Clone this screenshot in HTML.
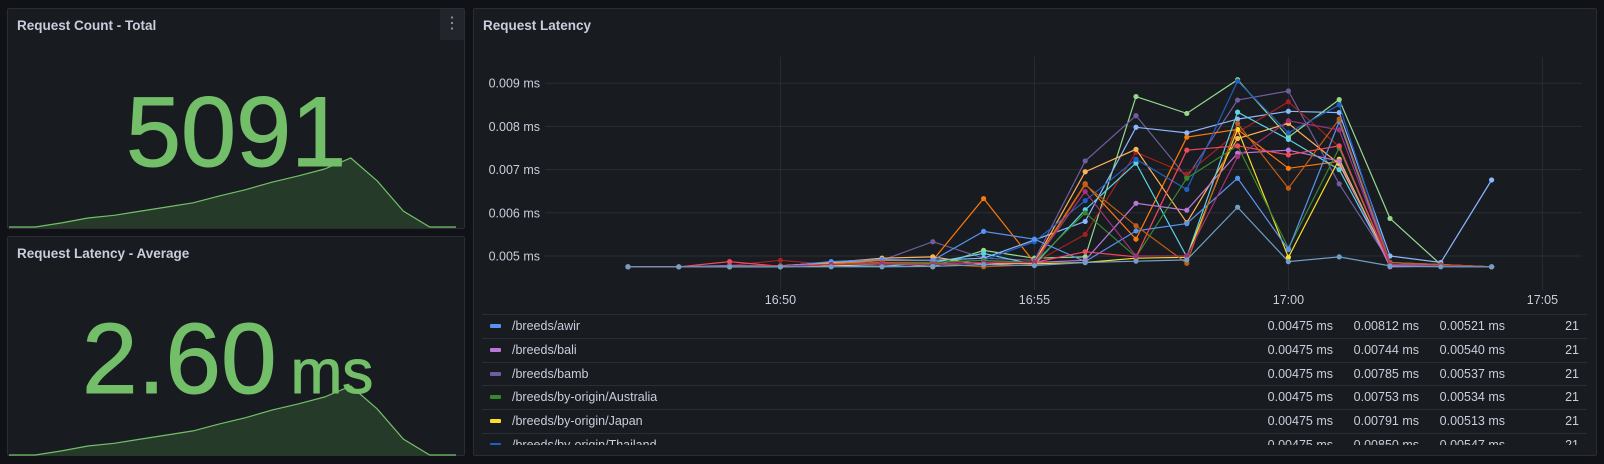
<!DOCTYPE html>
<html><head><meta charset="utf-8"><style>
html,body{margin:0;padding:0;background:#111217;width:1604px;height:464px;overflow:hidden;font-family:"Liberation Sans",sans-serif;}
.panel{position:absolute;background:#181b1f;border:1px solid #2a2d33;border-radius:2px;box-sizing:border-box;}
.title{position:absolute;left:9px;top:9px;color:#ccccdc;font-size:13.5px;font-weight:bold;}
.big{position:absolute;color:#73bf69;font-weight:normal;-webkit-text-stroke:1px #73bf69;white-space:nowrap;}
</style></head><body>
<div class="panel" style="left:7px;top:8px;width:458px;height:221px;">
  <div class="title">Request Count - Total</div>
  <div style="position:absolute;right:0;top:0;width:24px;height:31px;background:#22252b;color:#9fa1a8;font-size:16px;text-align:center;line-height:30px;">⋮</div>
  <svg id="spark1" style="position:absolute;left:-7px;top:-8px" width="465" height="229"></svg>
  <div class="big" style="left:118px;top:66px;font-size:99px;">5091</div>
</div>
<div class="panel" style="left:7px;top:236px;width:458px;height:220px;">
  <div class="title">Request Latency - Average</div>
  <svg id="spark2" style="position:absolute;left:-7px;top:-236px" width="465" height="457"></svg>
  <div class="big" style="left:74px;top:65px;font-size:100px;">2.60<span style="font-size:62px;margin-left:14px">ms</span></div>
</div>
<div class="panel" style="left:473px;top:8px;width:1124px;height:448px;">
  <div class="title">Request Latency</div>
</div>
<svg id="chart" style="position:absolute;left:0;top:0" width="1604" height="464"></svg>
<div id="legend" style="position:absolute;left:482px;top:314px;width:1105px;height:131px;overflow:hidden;"></div>
<script>
const NS="http://www.w3.org/2000/svg";
function mk(p,t,a){const e=document.createElementNS(NS,t);for(const k in a)e.setAttribute(k,a[k]);p.appendChild(e);return e;}
// sparkline data
const sparkValues=[0,0,6,13,17,23,29,35,45,54,65,74,84,100,67,23,0,0];
function spark(svg,base){
  const pts=sparkValues.map((v,i)=>[8+i*(447/17),base-v*0.69]);
  const d="M"+pts.map(p=>p[0].toFixed(1)+","+p[1].toFixed(1)).join("L");
  const a=mk(svg,"path",{d:d+"L455,"+(base+1)+"L8,"+(base+1)+"Z",fill:"#263a29"});
  
  
  const l=mk(svg,"path",{d:d,fill:"none",stroke:"#73bf69","stroke-width":1.2});
  
  
}
spark(document.getElementById("spark1"),226);
spark(document.getElementById("spark2"),454);

// chart data
const timeLabels=["16:50","16:55","17:00","17:05"];
const yTicks=[0.005,0.006,0.007,0.008,0.009];
const seriesNames=["light-green","bamb","light-blue","dark-red","orange","peach","cyan","thailand","japan","australia","awir","bali","pink-red","brown","maroon","steel"];
const seriesColors=["#96d98d","#705da0","#8ab8ff","#a3201e","#ff780a","#ffb357","#5cd2e6","#1f60c4","#fade2a","#37872d","#5794f2","#b877d9","#f2495c","#c15c17","#a0327a","#6e9fc4"];
const s0=[4.75,4.75,4.76,4.76,4.8,4.85,4.75,5.13,4.95,4.98,8.69,8.30,9.08,7.75,8.62,5.87,4.80,4.75];
const s1=[4.75,4.75,4.76,4.76,4.8,4.9,5.33,4.95,4.9,7.2,8.25,6.82,8.61,8.82,6.67,4.85,4.78,4.75];
const s2=[4.75,4.75,4.77,4.77,4.85,4.9,4.9,4.95,5.37,5.8,7.98,7.85,8.17,8.35,8.32,5.0,4.85,6.76];
const s3=[4.75,4.75,4.78,4.9,4.8,4.8,4.8,4.85,4.85,5.5,7.4,6.9,7.86,8.57,7.53,4.8,4.78,4.75];
const s4=[4.75,4.75,4.76,4.76,4.82,4.9,4.9,6.33,4.85,6.67,5.39,7.75,7.93,7.03,7.19,4.8,4.78,4.75];
const s5=[4.75,4.75,4.76,4.77,4.85,4.95,4.98,4.8,4.85,6.95,7.47,5.77,7.72,8.07,7.13,4.85,4.8,4.75];
const s6=[4.75,4.75,4.75,4.75,4.78,4.76,4.85,5.06,4.8,6.07,7.15,4.98,8.33,7.70,7.0,4.8,4.78,4.75];
const s7=[4.75,4.75,4.76,4.76,4.8,4.85,4.85,4.9,5.33,6.28,7.24,6.54,9.05,7.85,8.5,4.85,4.8,4.75];
const s8=[4.75,4.75,4.75,4.75,4.78,4.82,4.8,4.85,4.82,4.85,4.95,4.97,7.93,4.97,7.24,4.78,4.77,4.75];
const s9=[4.75,4.75,4.76,4.76,4.8,4.85,4.85,4.9,4.85,6.0,4.98,6.8,7.55,5.18,7.5,4.78,4.77,4.75];
const s10=[4.75,4.75,4.78,4.76,4.87,4.92,4.9,5.57,5.39,4.87,5.58,5.75,6.8,5.15,8.11,4.8,4.78,4.75];
const s11=[4.75,4.75,4.76,4.76,4.8,4.83,4.8,4.85,4.85,4.9,6.22,6.06,7.38,7.45,7.2,4.75,4.76,4.75];
const s12=[4.75,4.75,4.87,4.76,4.8,4.82,4.82,4.85,4.85,5.1,4.98,7.45,7.55,7.34,7.55,4.78,4.77,4.75];
const s13=[4.75,4.75,4.76,4.76,4.8,4.85,4.82,4.75,4.8,6.65,5.7,4.83,8.07,6.57,8.17,4.85,4.8,4.75];
const s14=[4.75,4.75,4.76,4.76,4.8,4.82,4.8,4.85,4.85,6.49,5.0,5.0,7.3,8.13,7.92,4.8,4.77,4.75];
const s15=[4.75,4.75,4.75,4.75,4.75,4.75,4.76,4.8,4.78,4.85,4.88,4.91,6.13,4.87,4.98,4.77,4.75,4.75];
const allSeries=[s0,s1,s2,s3,s4,s5,s6,s7,s8,s9,s10,s11,s12,s13,s14,s15];
// legend data
const legendNames=["/breeds/awir","/breeds/bali","/breeds/bamb","/breeds/by-origin/Australia","/breeds/by-origin/Japan","/breeds/by-origin/Thailand"];
const legendColors=["#5794f2","#b877d9","#705da0","#37872d","#fade2a","#1f60c4"];
const legendMin=["0.00475 ms","0.00475 ms","0.00475 ms","0.00475 ms","0.00475 ms","0.00475 ms"];
const legendMax=["0.00812 ms","0.00744 ms","0.00785 ms","0.00753 ms","0.00791 ms","0.00850 ms"];
const legendMean=["0.00521 ms","0.00540 ms","0.00537 ms","0.00534 ms","0.00513 ms","0.00547 ms"];
const legendCount=["21","21","21","21","21","21"];

// axes: minute index (0 = 16:47) -> x ; ms*1000 -> y
function xScale(i){return 628+50.8*i;}
function yScale(v){return 256-(v-5)*43.2;}
const chart=document.getElementById("chart");
yTicks.forEach(t=>{
  const y=yScale(t*1000);
  const g=mk(chart,"line",{x1:545,x2:1582,y1:y,y2:y,stroke:"#2a2d32","stroke-width":1});
  
  
  const tx=mk(chart,"text",{x:540,y:y+4.5,"text-anchor":"end",fill:"#ccccdc","font-size":"12.5","font-family":"Liberation Sans, sans-serif"});
  tx.textContent=t.toFixed(3)+" ms";
  
  
});
timeLabels.forEach((lab,k)=>{
  const x=xScale(3+5*k);
  const g=mk(chart,"line",{x1:x,x2:x,y1:57,y2:290,stroke:"#2a2d32","stroke-width":1});
  
  
  const tx=mk(chart,"text",{x:x,y:304,"text-anchor":"middle",fill:"#ccccdc","font-size":"12.5","font-family":"Liberation Sans, sans-serif"});
  tx.textContent=lab;
  
  
});
allSeries.forEach((s,k)=>{
  const d="M"+s.map((v,i)=>xScale(i).toFixed(1)+","+yScale(v).toFixed(1)).join("L");
  const p=mk(chart,"path",{d:d,fill:"none",stroke:seriesColors[k],"stroke-width":1.2});
  
  
  s.forEach((v,i)=>{
    const c=mk(chart,"circle",{cx:xScale(i),cy:yScale(v),r:2.6,fill:seriesColors[k]});
    
    
  });
});
const lg=document.getElementById("legend");
legendNames.forEach((n,i)=>{
  const r=document.createElement("div");
  
  
  r.style.cssText="position:absolute;left:0;top:"+(i*23.8)+"px;width:1105px;height:23px;border-top:1px solid #2a2d32;color:#ccccdc;font-size:12.5px;line-height:23px;";
  r.innerHTML='<span style="position:absolute;left:8px;top:9px;width:11px;height:4px;border-radius:1px;background:'+legendColors[i]+'"></span>'+
   '<span style="position:absolute;left:30px">'+n+'</span>'+
   '<span style="position:absolute;right:254px">'+legendMin[i]+'</span>'+
   '<span style="position:absolute;right:168px">'+legendMax[i]+'</span>'+
   '<span style="position:absolute;right:82px">'+legendMean[i]+'</span>'+
   '<span style="position:absolute;right:8px">'+legendCount[i]+'</span>';
  lg.appendChild(r);
});
</script>
</body></html>
